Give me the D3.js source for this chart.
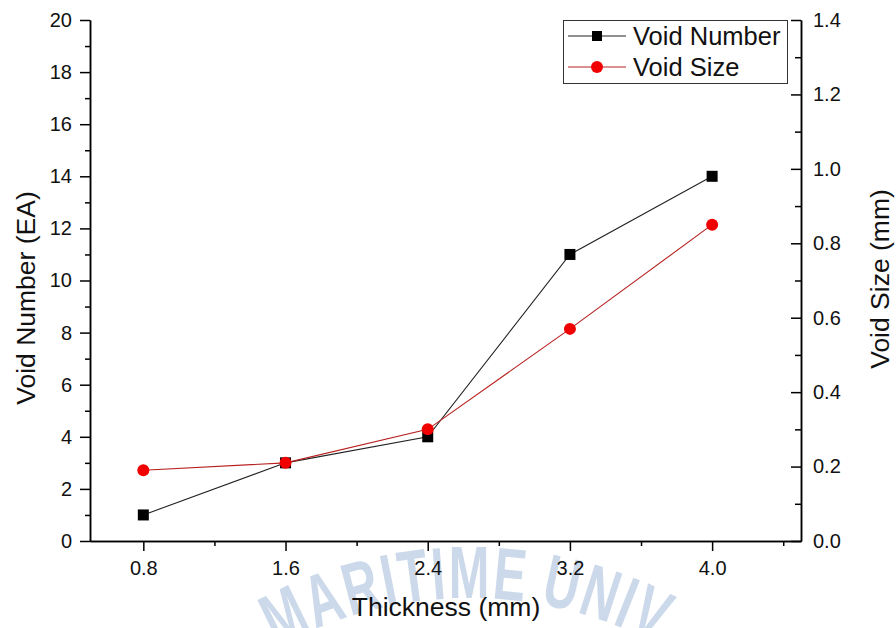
<!DOCTYPE html>
<html>
<head>
<meta charset="utf-8">
<script src="https://cdn.jsdelivr.net/npm/d3@7.9.0/dist/d3.min.js"></script>
<style>
  body { margin: 0; background: #fff; }
  svg { display: block; font-family: Arial, "Liberation Sans", sans-serif; }
</style>
</head>
<body>
<svg width="896" height="628"></svg>
<script>
// data
const thickness = [0.8, 1.6, 2.4, 3.2, 4.0];
const voidNumber = [1, 3, 4, 11, 14];
const voidSize = [0.19, 0.21, 0.30, 0.57, 0.85];

const xMajor = [0.8, 1.6, 2.4, 3.2, 4.0];
const xMinor = [1.2, 2.0, 2.8, 3.6, 4.4];
const yLeftMajor = [0, 2, 4, 6, 8, 10, 12, 14, 16, 18, 20];
const yLeftMinor = [1, 3, 5, 7, 9, 11, 13, 15, 17, 19];
const yRightMajor = [0, 0.2, 0.4, 0.6, 0.8, 1.0, 1.2, 1.4];
const yRightMinor = [0.1, 0.3, 0.5, 0.7, 0.9, 1.1, 1.3];

const W = 896, H = 628;
const margin = { top: 20, right: 95, bottom: 87, left: 90 };
const svg = d3.select("svg");

let x = d3.scaleLinear().domain([0.5, 4.5]).range([margin.left, W - margin.right]);
let yL = d3.scaleLinear().domain([0, 20]).range([H - margin.bottom, margin.top]);
let yR = d3.scaleLinear().domain([0, 1.4]).range([H - margin.bottom, margin.top]);

// faint watermark, letters laid one by one round an arc
const wm = svg.append("g").attr("opacity", 0.8);
const wmCx = 470, wmCy = 998, wmR = 400;
let ang = -29 * Math.PI / 180;
"MARITIME UNIV".split("").forEach(ch => {
  if (ch === " ") { ang += 14 / wmR; return; }
  let t = wm.append("text")
    .attr("font-family", "'Liberation Sans', Arial")
    .attr("font-weight", "bold")
    .attr("font-size", 74)
    .attr("fill", "#bfd0e6")
    .text(ch);
  let w = t.node().getComputedTextLength() * 0.66 + 2;
  let a = ang + (w / 2) / wmR;
  let px = wmCx + wmR * Math.sin(a), py = wmCy - wmR * Math.cos(a);
  t.attr("text-anchor", "middle")
    .attr("transform", `translate(${px},${py}) rotate(${a * 180 / Math.PI}) scale(0.66,1)`);
  ang += w / wmR;
});

// axes
function styleAxis(g) {
  g.select(".domain").attr("stroke", "#000").attr("stroke-width", 1.5);
  g.selectAll(".tick line").attr("stroke", "#000").attr("stroke-width", 1.5);
  g.selectAll("text").attr("font-size", 20).attr("fill", "#111").attr("font-family", "Arial, 'Liberation Sans'");
}

svg.append("g")
  .attr("transform", `translate(0,${H - margin.bottom})`)
  .call(d3.axisBottom(x).tickValues(xMinor).tickSize(5).tickFormat("").tickSizeOuter(0))
  .call(styleAxis);
svg.append("g")
  .attr("transform", `translate(0,${H - margin.bottom})`)
  .call(d3.axisBottom(x).tickValues(xMajor).tickSize(10).tickPadding(10).tickFormat(d3.format(".1f")).tickSizeOuter(0))
  .call(styleAxis);

svg.append("g")
  .attr("transform", `translate(${margin.left},0)`)
  .call(d3.axisLeft(yL).tickValues(yLeftMinor).tickSize(5).tickFormat("").tickSizeOuter(0))
  .call(styleAxis);
svg.append("g")
  .attr("transform", `translate(${margin.left},0)`)
  .call(d3.axisLeft(yL).tickValues(yLeftMajor).tickSize(10).tickPadding(8).tickFormat(d3.format("d")).tickSizeOuter(0))
  .call(styleAxis);

svg.append("g")
  .attr("transform", `translate(${W - margin.right},0)`)
  .call(d3.axisRight(yR).tickValues(yRightMinor).tickSize(-6).tickFormat("").tickSizeOuter(0))
  .call(styleAxis);
svg.append("g")
  .attr("transform", `translate(${W - margin.right},0)`)
  .call(d3.axisRight(yR).tickValues(yRightMajor).tickSize(-10).tickPadding(12).tickFormat(d3.format(".1f")).tickSizeOuter(0))
  .call(styleAxis);

// axis titles
svg.append("text")
  .attr("x", 446).attr("y", 616)
  .attr("text-anchor", "middle")
  .attr("font-size", 26.5).attr("fill", "#111")
  .text("Thickness (mm)");
svg.append("text")
  .attr("transform", "translate(35,298) rotate(-90)")
  .attr("text-anchor", "middle")
  .attr("font-size", 26.5).attr("fill", "#111")
  .text("Void Number (EA)");
svg.append("text")
  .attr("transform", "translate(889,279) rotate(-90)")
  .attr("text-anchor", "middle")
  .attr("font-size", 26.5).attr("fill", "#111")
  .text("Void Size (mm)");

// series
let numData = thickness.map((t, i) => ({ t, v: voidNumber[i] }));
let sizeData = thickness.map((t, i) => ({ t, v: voidSize[i] }));

svg.append("path")
  .datum(numData)
  .attr("fill", "none")
  .attr("stroke", "#222")
  .attr("stroke-width", 1.1)
  .attr("d", d3.line().x(d => x(d.t)).y(d => yL(d.v)));

svg.append("path")
  .datum(sizeData)
  .attr("fill", "none")
  .attr("stroke", "#b82020")
  .attr("stroke-width", 1.1)
  .attr("d", d3.line().x(d => x(d.t)).y(d => yR(d.v)));

svg.selectAll("rect.pt")
  .data(numData)
  .enter()
  .append("rect")
  .attr("class", "pt")
  .attr("x", d => x(d.t) - 5.5)
  .attr("y", d => yL(d.v) - 5.5)
  .attr("width", 11).attr("height", 11)
  .attr("fill", "#000");

svg.selectAll("circle.pt")
  .data(sizeData)
  .enter()
  .append("circle")
  .attr("class", "pt")
  .attr("cx", d => x(d.t))
  .attr("cy", d => yR(d.v))
  .attr("r", 6)
  .attr("fill", "#f00000");

// legend
const legend = svg.append("g");
legend.append("rect")
  .attr("x", 563.5).attr("y", 20.5)
  .attr("width", 224).attr("height", 63)
  .attr("fill", "#fff").attr("stroke", "#333").attr("stroke-width", 1);

const legendItems = [
  { label: "Void Number", color: "#222", marker: "square" },
  { label: "Void Size", color: "#b82020", marker: "circle" }
];
legendItems.forEach((d, i) => {
  let cy = 36 + i * 31;
  legend.append("line")
    .attr("x1", 568).attr("x2", 626).attr("y1", cy).attr("y2", cy)
    .attr("stroke", d.color).attr("stroke-width", 1.1);
  if (d.marker === "square") {
    legend.append("rect").attr("x", 597 - 5).attr("y", cy - 5).attr("width", 10).attr("height", 10).attr("fill", "#000");
  } else {
    legend.append("circle").attr("cx", 597).attr("cy", cy).attr("r", 6).attr("fill", "#f00000");
  }
  legend.append("text")
    .attr("x", 633).attr("y", cy + 9)
    .attr("font-size", 25.5).attr("fill", "#111")
    .text(d.label);
});
</script>
</body>
</html>
